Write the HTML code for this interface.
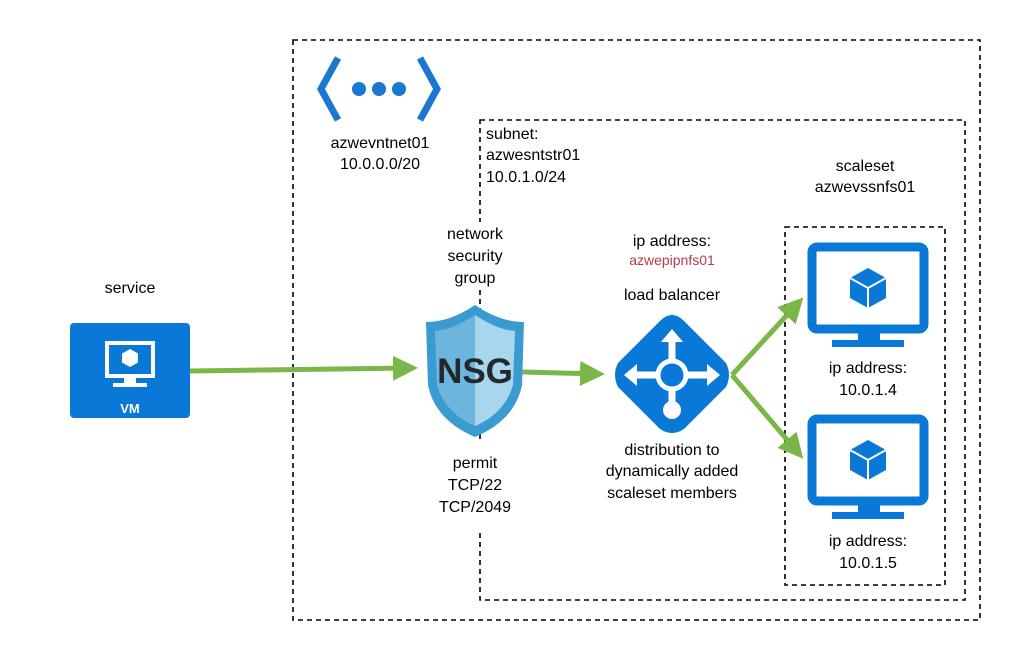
<!DOCTYPE html>
<html><head><meta charset="utf-8"><style>
html,body{margin:0;padding:0;background:#fff;}
svg{display:block;}
text{font-family:"Liberation Sans",Arial,sans-serif;font-size:16px;fill:#000;}
</style></head><body>
<svg width="1020" height="660" viewBox="0 0 1020 660">
<defs>
<marker id="ah" markerWidth="5" markerHeight="5" refX="4" refY="2.5" orient="auto" markerUnits="strokeWidth">
<path d="M0,0 L5,2.5 L0,5 z" fill="#7ab648"/></marker>
</defs>
<rect x="293" y="40" width="687" height="580" fill="none" stroke="#000" stroke-width="1.6" stroke-dasharray="5,4"/>
<rect x="480" y="120" width="485" height="480" fill="none" stroke="#000" stroke-width="1.6" stroke-dasharray="5,4"/>
<rect x="785" y="227" width="160" height="358" fill="none" stroke="#000" stroke-width="1.6" stroke-dasharray="5,4"/>

<polyline points="338,58 321,89 338,120" fill="none" stroke="#1a78d0" stroke-width="7"/>
<polyline points="420,58 437,89 420,120" fill="none" stroke="#1a78d0" stroke-width="7"/>
<circle cx="359" cy="89" r="7" fill="#1a78d0"/>
<circle cx="379" cy="89" r="7" fill="#1a78d0"/>
<circle cx="399" cy="89" r="7" fill="#1a78d0"/>
<text x="380" y="148" text-anchor="middle">azwevntnet01</text>
<text x="380" y="169" text-anchor="middle">10.0.0.0/20</text>

<text x="486" y="139">subnet:</text>
<text x="486" y="160">azwesntstr01</text>
<text x="486" y="182">10.0.1.0/24</text>

<text x="865" y="171" text-anchor="middle">scaleset</text>
<text x="865" y="192" text-anchor="middle">azwevssnfs01</text>

<rect x="440" y="222" width="80" height="68" fill="#fff"/>
<rect x="415" y="440" width="130" height="90" fill="#fff"/>
<text x="475" y="239" text-anchor="middle">network</text>
<text x="475" y="261" text-anchor="middle">security</text>
<text x="475" y="283" text-anchor="middle">group</text>
<text x="475" y="468" text-anchor="middle">permit</text>
<text x="475" y="490" text-anchor="middle">TCP/22</text>
<text x="475" y="512" text-anchor="middle">TCP/2049</text>

<text x="130" y="293" text-anchor="middle">service</text>

<rect x="70" y="323" width="120" height="95" rx="4" fill="#0a78d7"/>
<rect x="107" y="343" width="46" height="33" fill="none" stroke="#fff" stroke-width="4"/>
<rect x="124" y="377" width="12" height="6" fill="#fff"/>
<rect x="113" y="383" width="34" height="4" fill="#fff"/>
<path d="M130,349 l8,4.5 v9 l-8,4.5 l-8,-4.5 v-9z" fill="#fff"/>
<text x="130" y="413" text-anchor="middle" style="fill:#fff;font-size:13px;font-weight:bold">VM</text>

<line x1="190" y1="371" x2="413" y2="368" stroke="#7ab648" stroke-width="5" marker-end="url(#ah)"/>
<line x1="522" y1="372" x2="600" y2="374" stroke="#7ab648" stroke-width="5" marker-end="url(#ah)"/>
<line x1="732" y1="375" x2="800" y2="301" stroke="#7ab648" stroke-width="5" marker-end="url(#ah)"/>
<line x1="732" y1="375" x2="800" y2="455" stroke="#7ab648" stroke-width="5" marker-end="url(#ah)"/>

<path d="M475,305 Q500,322 524,322 L522,385 Q515,420 475,437 Q435,420 428,385 L426,322 Q450,322 475,305z" fill="#3a9bd0"/>
<path d="M475,315 Q498,330 515,331 L513,385 Q505,413 475,426z" fill="#a9d5ee"/>
<path d="M475,315 Q452,330 435,331 L437,385 Q445,413 475,426z" fill="#6cb6de"/>
<text x="475" y="383" text-anchor="middle" style="font-size:35px;fill:#22282c;font-weight:bold;font-family:'Liberation Sans',sans-serif">NSG</text>

<text x="672" y="246" text-anchor="middle">ip address:</text>
<text x="672" y="265" text-anchor="middle" style="fill:#b83a48;font-size:14px">azwepipnfs01</text>
<text x="672" y="300" text-anchor="middle">load balancer</text>
<path d="M672,315 Q678,315 684,321 L726,363 Q732,375 726,387 L684,429 Q672,437 660,429 L618,387 Q612,375 618,363 L660,321 Q666,315 672,315z" fill="#0a78d7"/>
<line x1="672" y1="337" x2="672" y2="408" stroke="#fff" stroke-width="7"/>
<line x1="634" y1="375" x2="710" y2="375" stroke="#fff" stroke-width="7"/>
<path d="M672,329 l-11,13 h22z M624,375 l13,-11 v22z M720,375 l-13,-11 v22z" fill="#fff"/>
<circle cx="672" cy="375" r="14" fill="#0a78d7" stroke="#fff" stroke-width="5"/>
<circle cx="672" cy="410" r="9" fill="#fff"/>
<text x="672" y="455" text-anchor="middle">distribution to</text>
<text x="672" y="476" text-anchor="middle">dynamically added</text>
<text x="672" y="498" text-anchor="middle">scaleset members</text>

<g>
<rect x="812" y="247" width="112" height="82" rx="5" fill="none" stroke="#0a78d7" stroke-width="9"/>
<rect x="858" y="333" width="22" height="8" fill="#0a78d7"/>
<rect x="832" y="340" width="72" height="7" fill="#0a78d7"/>
<path d="M868,268 l18,10 v20 l-18,10 l-18,-10 v-20z" fill="#0a78d7"/>
<path d="M850,278 l18,10 l18,-10 M868,288 v20" fill="none" stroke="#fff" stroke-width="2"/>
</g>
<g transform="translate(0,172)">
<rect x="812" y="247" width="112" height="82" rx="5" fill="none" stroke="#0a78d7" stroke-width="9"/>
<rect x="858" y="333" width="22" height="8" fill="#0a78d7"/>
<rect x="832" y="340" width="72" height="7" fill="#0a78d7"/>
<path d="M868,268 l18,10 v20 l-18,10 l-18,-10 v-20z" fill="#0a78d7"/>
<path d="M850,278 l18,10 l18,-10 M868,288 v20" fill="none" stroke="#fff" stroke-width="2"/>
</g>
<text x="868" y="373" text-anchor="middle">ip address:</text>
<text x="868" y="395" text-anchor="middle">10.0.1.4</text>
<text x="868" y="546" text-anchor="middle">ip address:</text>
<text x="868" y="568" text-anchor="middle">10.0.1.5</text>
</svg>
</body></html>
